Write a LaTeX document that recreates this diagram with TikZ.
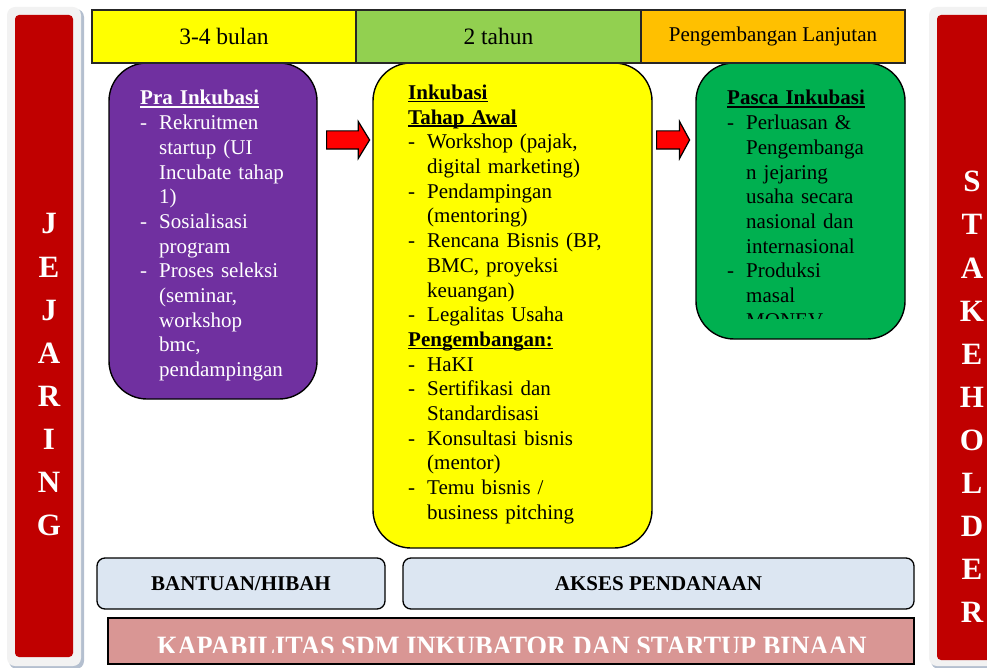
\documentclass[tikz,border=0pt]{standalone}
\usepackage{fontspec}
\setmainfont{Liberation Serif}
\usetikzlibrary{shapes.arrows}

\definecolor{barred}{HTML}{C00000}
\definecolor{framegray}{HTML}{F2F2F2}
\definecolor{frameshadow}{HTML}{B4BFCF}
\definecolor{hdyellow}{HTML}{FFFF00}
\definecolor{hdgreen}{HTML}{92D050}
\definecolor{hdorange}{HTML}{FFC000}
\definecolor{prapurple}{HTML}{7030A0}
\definecolor{inkyellow}{HTML}{FFFF00}
\definecolor{pascagreen}{HTML}{00B050}
\definecolor{fundblue}{HTML}{DCE6F2}
\definecolor{kappink}{HTML}{D99694}

\newsavebox{\ulbox}
\newcommand{\titleul}[1]{\leavevmode\sbox{\ulbox}{\textbf{#1}}\rlap{\rule[-2.6pt]{\wd\ulbox}{1.3pt}}\usebox{\ulbox}}
\newcommand{\dashitem}[1]{\par\hangindent=19pt\hangafter=1\noindent\makebox[19pt][l]{-}#1}

\begin{document}
\begin{tikzpicture}[x=1pt,y=-1pt,
    stage/.style={draw=black,line width=1.4pt,rounded corners=38pt,inner sep=0pt},
    period/.style={draw=black!85,line width=1.2pt,minimum height=53pt,inner sep=0pt,
                   font=\fontsize{23.5}{28}\selectfont},
    stagetext/.style={anchor=base west,inner sep=0pt,align=left,
                      font=\fontsize{21}{24.7}\selectfont},
    flow/.style={shape=single arrow,draw=black,line width=1.2pt,fill=red,inner xsep=0pt,
                 inner ysep=8.5pt,anchor=tail,single arrow head extend=9.5pt},
    fund/.style={draw=black,line width=1.3pt,rounded corners=8pt,fill=fundblue,
                 minimum height=51pt,font=\fontsize{21}{25}\selectfont\bfseries},
    sidebar/.style={fill=barred,rounded corners=4pt,inner sep=0pt},
    sideletter/.style={anchor=base,inner sep=0pt,text=white,
                       font=\fontsize{31}{36}\selectfont\bfseries}]

  \useasboundingbox (0,0) rectangle (987,668);
  \clip (0,0) rectangle (987,668);

  % frames round the side bars
  \fill[frameshadow,rounded corners=8pt] (9,9) rectangle (84,669);
  \fill[framegray,rounded corners=8pt] (7,7) rectangle (81,666);
  \fill[frameshadow,rounded corners=8pt] (931,9) rectangle (1010,669);
  \fill[framegray,rounded corners=8pt] (929,7) rectangle (1010,666);

  \node[sidebar,minimum width=58pt,minimum height=642pt] (jejaring) at (44,336) {};
  \node[sidebar,minimum width=63pt,minimum height=645pt] (stakeholder) at (968.5,337.5) {};
  \foreach \c [count=\i from 0] in {J,E,J,A,R,I,N,G}
    \node[sideletter] (jl\i) at (49,234+43*\i) {\c};
  \foreach \c [count=\i from 0] in {S,T,A,K,E,H,O,L,D,E,R}
    \node[sideletter] (sl\i) at (972,192+43*\i) {\c};

  % stages
  \node[stage,fill=prapurple,minimum width=208pt,minimum height=336pt] (pra) at (213,231) {};
  \node[stage,fill=inkyellow,minimum width=279pt,minimum height=485pt] (ink) at (512.5,305.5) {};
  \node[stage,fill=pascagreen,minimum width=209pt,minimum height=276pt] (pasca) at (800.5,201) {};

  \node[period,fill=hdyellow,minimum width=264pt] (bulan) at (224,36.5) {3-4 bulan};
  \node[period,fill=hdgreen,minimum width=285pt] (tahun) at (498.5,36.5) {2 tahun};
  \node[period,fill=hdorange,minimum width=264pt,font=\fontsize{21}{25}\selectfont]
    (lanjut) at (773,36.5) {Pengembangan Lanjutan};

  \node[stagetext,text=white,text width=180pt] (pratext) at (140,105) {\titleul{Pra Inkubasi}
    \dashitem{Rekruitmen\newline startup (UI\newline Incubate tahap\newline 1)}
    \dashitem{Sosialisasi\newline program}
    \dashitem{Proses seleksi\newline (seminar,\newline workshop\newline bmc,\newline pendampingan}\par};

  \node[stagetext,text width=230pt] (inktext) at (408,99.5) {\titleul{Inkubasi}\newline\titleul{Tahap Awal}
    \dashitem{Workshop (pajak,\newline digital marketing)}
    \dashitem{Pendampingan\newline (mentoring)}
    \dashitem{Rencana Bisnis (BP,\newline BMC, proyeksi\newline keuangan)}
    \dashitem{Legalitas Usaha}
    \par\titleul{Pengembangan:}
    \dashitem{HaKI}
    \dashitem{Sertifikasi dan\newline Standardisasi}
    \dashitem{Konsultasi bisnis\newline (mentor)}
    \dashitem{Temu bisnis /\newline business pitching}\par};

  \begin{scope}
    \clip (700,70) rectangle (900,318);
    \node[stagetext,text width=170pt] (pascatext) at (727,105) {\titleul{Pasca Inkubasi}
      \dashitem{Perluasan \&\newline Pengembanga\newline n jejaring\newline usaha secara\newline nasional dan\newline internasional}
      \dashitem{Produksi\newline masal\newline MONEV}\par};
  \end{scope}

  % arrows between the stages
  \node[flow,minimum height=43pt,single arrow tip angle=117] (toink) at (326,140) {};
  \node[flow,minimum height=33pt,single arrow tip angle=123] (topasca) at (656,140) {};

  % funding and capability
  \node[fund,minimum width=288pt] (hibah) at (241,583.5) {BANTUAN/HIBAH};
  \node[fund,minimum width=511pt] (dana) at (658.5,583.5) {AKSES PENDANAAN};
  \node[draw=black,line width=1.3pt,fill=kappink,minimum width=806pt,minimum height=46pt]
    (kapa) at (511,641) {};
  \begin{scope}
    \clip (110,620) rectangle (912,652);
    \node[anchor=base,inner sep=0pt,text=white,font=\fontsize{28}{30}\selectfont\bfseries]
      (kapatext) at (512,655) {\scalebox{0.94}[1]{KAPABILITAS SDM INKUBATOR DAN STARTUP BINAAN}};
  \end{scope}
\end{tikzpicture}
\end{document}
